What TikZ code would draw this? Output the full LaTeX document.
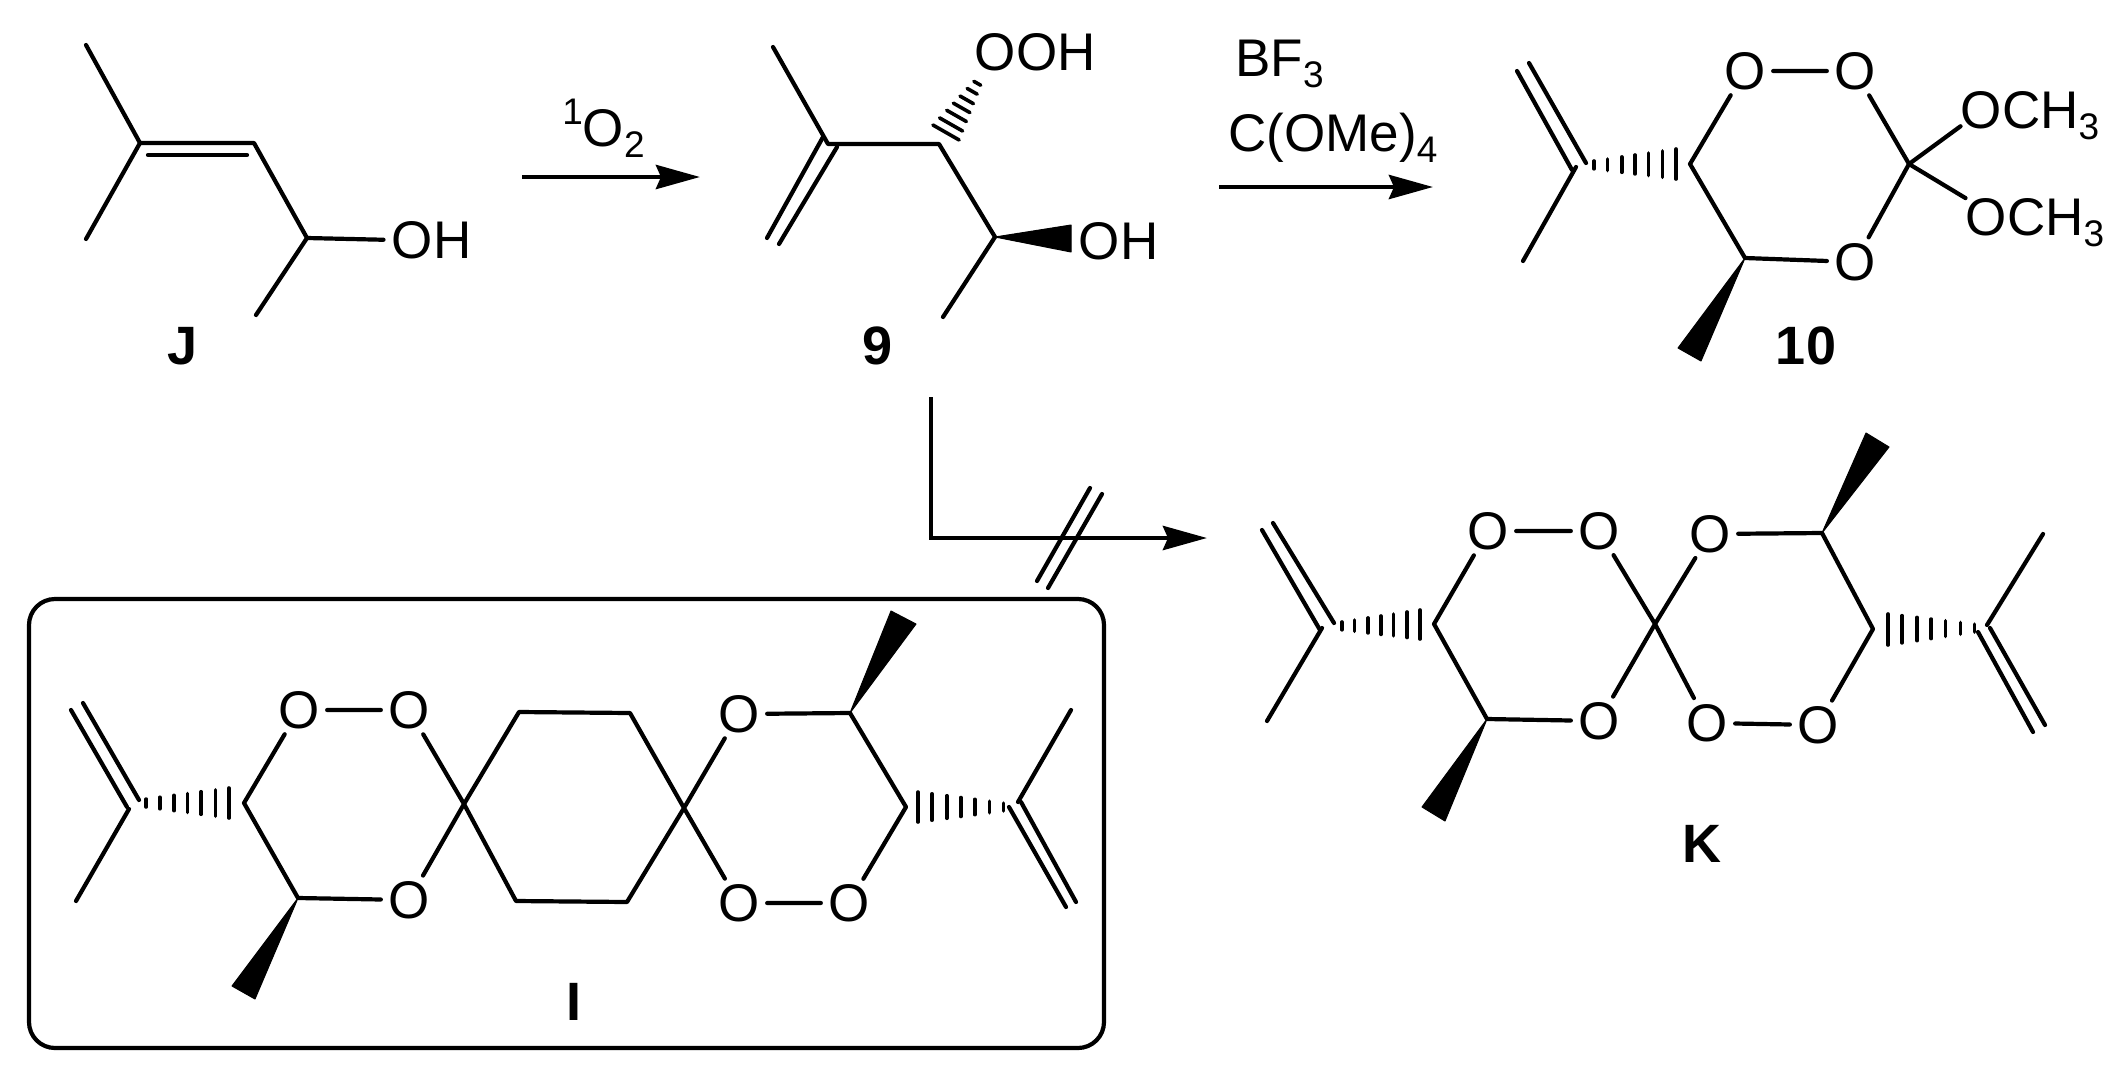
\documentclass[tikz,border=0pt]{standalone}
\usepackage{fontspec}
\setmainfont{Liberation Sans}
\usetikzlibrary{arrows.meta,calc}
\newcommand{\atomfont}{\fontsize{26.5}{30}\selectfont}
\newcommand{\subs}[1]{\raisebox{-5.5pt}{\fontsize{18.5}{20}\selectfont #1}}
\newcommand{\sups}[1]{\raisebox{11pt}{\fontsize{18.5}{20}\selectfont #1}}
\newcommand{\hashbond}[3]{\foreach \hpos in {0.08,0.23,0.39,0.54,0.69,0.85,1} \path[hash] ($(#1)!\hpos!(#2)$) -- ($(#1)!\hpos!(#3)$);}
\tikzstyle{bond} = [draw, line width=2.1pt, line cap=round, line join=round]
\tikzstyle{hash} = [draw, line width=1.8pt, line cap=round, shorten >=-1.5pt, shorten <=-1.5pt]
\tikzstyle{wedge} = [fill=black, draw=black, line width=0.5pt, line join=round]
\tikzstyle{rxn} = [draw, line width=2.4pt, -{Stealth[length=22pt,width=12pt,inset=2.5pt]}]
\tikzstyle{oxygen} = [circle, inner sep=0pt, minimum size=26pt, font=\atomfont]
\tikzstyle{chem} = [inner sep=0pt, anchor=base west, font=\atomfont]
\tikzstyle{compound} = [inner sep=0pt, anchor=base, font=\fontsize{27}{30}\selectfont\bfseries]
\begin{document}
\begin{tikzpicture}[x=0.5pt, y=-0.5pt]
        \useasboundingbox (0,0) rectangle (2125,1066);
        \coordinate (jMeA) at (86,45);
        \coordinate (jCa) at (140,143);
        \coordinate (jMeB) at (86,239);
        \coordinate (jCb) at (254,143);
        \coordinate (jInA) at (148,155);
        \coordinate (jInB) at (247,155);
        \coordinate (jCc) at (307,238);
        \coordinate (jMeC) at (256,315);
        \node[chem] (jOH) at (391.5,258) {OH};
        \node[compound] (jTag) at (183,364) {J};
        \path[bond] (jMeA) -- (jCa) -- (jMeB);
        \path[bond] (jCa) -- (jCb) -- (jCc) -- (jMeC);
        \path[bond] (jInA) -- (jInB);
        \path[bond] (jCc) -- ([xshift=-4pt]jOH.west);

        \coordinate (oneS) at (522,177);
        \coordinate (oneE) at (700,177);
        \node[chem] (oneO) at (562,146) {\sups{1}O\subs{2}};
        \path[rxn] (oneS) -- (oneE);

        \coordinate (nMeA) at (773,47);
        \coordinate (nCa) at (828,144);
        \coordinate (nCb) at (939,144);
        \coordinate (nCc) at (995,237);
        \coordinate (nMeC) at (943,317);
        \coordinate (nDbA) at (823,137);
        \coordinate (nDbB) at (767,238);
        \coordinate (nDbC) at (837,147);
        \coordinate (nDbD) at (779,244);
        \coordinate (nHs) at (980,79);
        \coordinate (nHa) at (935.5,126.5);
        \coordinate (nHb) at (956.5,138.5);
        \coordinate (nWa) at (1071,225);
        \coordinate (nWb) at (1071,252);
        \node[chem] (nOOH) at (974.5,70.5) {OOH};
        \node[chem] (nOH) at (1078.5,259) {OH};
        \node[compound] (nTag) at (878,364) {9};
        \path[bond] (nMeA) -- (nCa) -- (nCb) -- (nCc) -- (nMeC);
        \path[bond] (nDbA) -- (nDbB);
        \path[bond] (nDbC) -- (nDbD);
        \hashbond{nHs}{nHa}{nHb}
        \path[wedge] (nCc) -- (nWa) -- (nWb) -- cycle;

        \coordinate (twoS) at (1219,187);
        \coordinate (twoE) at (1433,187);
        \node[chem] (twoB) at (1235,76) {BF\subs{3}};
        \node[chem] (twoC) at (1228,151) {C(OMe)\subs{4}};
        \path[rxn] (twoS) -- (twoE);

        \coordinate (tDbA) at (1517,71);
        \coordinate (tDbB) at (1572,170);
        \coordinate (tDbC) at (1529,63);
        \coordinate (tDbD) at (1586,163);
        \coordinate (tCa) at (1576,167);
        \coordinate (tMe) at (1523,261);
        \coordinate (tCb) at (1690,164);
        \coordinate (tCc) at (1909,164);
        \coordinate (tCd) at (1745,258);
        \coordinate (tHs) at (1587,165);
        \coordinate (tHa) at (1676,152);
        \coordinate (tHb) at (1676,176);
        \coordinate (tWa) at (1678,348);
        \coordinate (tWb) at (1701,361);
        \node[oxygen] (tOa) at (1745,71) {O};
        \node[oxygen] (tOb) at (1855,71) {O};
        \node[oxygen] (tOc) at (1855,262) {O};
        \node[chem] (tMa) at (1960.5,128.5) {OCH\subs{3}};
        \node[chem] (tMb) at (1965.5,235.5) {OCH\subs{3}};
        \node[compound] (tTag) at (1806,364) {10};
        \path[bond] (tDbA) -- (tDbB);
        \path[bond] (tDbC) -- (tDbD);
        \path[bond] (tCa) -- (tMe);
        \path[bond] (tCb) -- (tOa) -- (tOb) -- (tCc) -- (tOc) -- (tCd) -- (tCb);
        \path[bond] (tCc) -- ([yshift=7pt]tMa.south west);
        \path[bond] (tCc) -- (tMb.north west);
        \hashbond{tHs}{tHa}{tHb}
        \path[wedge] (tCd) -- (tWa) -- (tWb) -- cycle;

        \coordinate (thrS) at (931,397);
        \coordinate (thrE) at (1207,538);
        \coordinate (slA) at (1090,488);
        \coordinate (slB) at (1037,581);
        \coordinate (slC) at (1102,494);
        \coordinate (slD) at (1048,588);
        \path[rxn] (thrS) |- (thrE);
        \path[bond] (slA) -- (slB);
        \path[bond] (slC) -- (slD);

        \draw[line width=2.1pt, rounded corners=13pt] (29,599) rectangle (1104,1048);

        \coordinate (iDbA) at (71,710);
        \coordinate (iDbB) at (127,807);
        \coordinate (iDbC) at (83,703);
        \coordinate (iDbD) at (139,800);
        \coordinate (iCa) at (129,809);
        \coordinate (iMeA) at (76,901);
        \coordinate (iCb) at (244,803);
        \coordinate (iCc) at (298,898);
        \coordinate (iSpA) at (464,804);
        \coordinate (iRa) at (519,712);
        \coordinate (iRb) at (630,713);
        \coordinate (iSpB) at (684,808);
        \coordinate (iRc) at (627,902);
        \coordinate (iRd) at (516,901);
        \coordinate (iCd) at (850,713);
        \coordinate (iCe) at (906,807);
        \coordinate (iCf) at (1018,802);
        \coordinate (iMeB) at (1071,710);
        \coordinate (iDbE) at (1009,807);
        \coordinate (iDbF) at (1066,907);
        \coordinate (iDbG) at (1021,802);
        \coordinate (iDbH) at (1076,902);
        \coordinate (iHs) at (139,803);
        \coordinate (iHa) at (229,791);
        \coordinate (iHb) at (229,815);
        \coordinate (iHt) at (1011,807);
        \coordinate (iHc) at (918,795);
        \coordinate (iHd) at (918,819);
        \coordinate (iWa) at (232,986);
        \coordinate (iWb) at (255,999);
        \coordinate (iWc) at (891,611);
        \coordinate (iWd) at (916,624);
        \node[oxygen] (iOa) at (299,710) {O};
        \node[oxygen] (iOb) at (409,710) {O};
        \node[oxygen] (iOc) at (409,900) {O};
        \node[oxygen] (iOd) at (739,714) {O};
        \node[oxygen] (iOe) at (849,903) {O};
        \node[oxygen] (iOf) at (739,903) {O};
        \node[compound] (iTag) at (574,1020) {I};
        \path[bond] (iDbA) -- (iDbB);
        \path[bond] (iDbC) -- (iDbD);
        \path[bond] (iCa) -- (iMeA);
        \path[bond] (iCb) -- (iOa) -- (iOb) -- (iSpA) -- (iOc) -- (iCc) -- (iCb);
        \path[bond] (iSpA) -- (iRa) -- (iRb) -- (iSpB) -- (iRc) -- (iRd) -- (iSpA);
        \path[bond] (iSpB) -- (iOd) -- (iCd) -- (iCe) -- (iOe) -- (iOf) -- (iSpB);
        \path[bond] (iCf) -- (iMeB);
        \path[bond] (iDbE) -- (iDbF);
        \path[bond] (iDbG) -- (iDbH);
        \hashbond{iHs}{iHa}{iHb}
        \hashbond{iHt}{iHc}{iHd}
        \path[wedge] (iCc) -- (iWa) -- (iWb) -- cycle;
        \path[wedge] (iCd) -- (iWc) -- (iWd) -- cycle;

        \coordinate (kDbA) at (1262,530);
        \coordinate (kDbB) at (1320,630);
        \coordinate (kDbC) at (1273,523);
        \coordinate (kDbD) at (1334,623);
        \coordinate (kCa) at (1322,628);
        \coordinate (kMeA) at (1267,721);
        \coordinate (kCb) at (1434,624);
        \coordinate (kCc) at (1487,719);
        \coordinate (kSp) at (1655,624);
        \coordinate (kCd) at (1822,533);
        \coordinate (kCe) at (1873,629);
        \coordinate (kCf) at (1987,625);
        \coordinate (kMeB) at (2043,534);
        \coordinate (kDbE) at (1978,632);
        \coordinate (kDbF) at (2033,732);
        \coordinate (kDbG) at (1990,628);
        \coordinate (kDbH) at (2045,725);
        \coordinate (kHs) at (1335,626);
        \coordinate (kHa) at (1420,613);
        \coordinate (kHb) at (1420,636);
        \coordinate (kHt) at (1982,628);
        \coordinate (kHc) at (1888,617);
        \coordinate (kHd) at (1888,642);
        \coordinate (kWa) at (1422,807);
        \coordinate (kWb) at (1445,821);
        \coordinate (kWc) at (1866,433);
        \coordinate (kWd) at (1889,447);
        \node[oxygen] (kOa) at (1488,531) {O};
        \node[oxygen] (kOb) at (1599,531) {O};
        \node[oxygen] (kOc) at (1599,721) {O};
        \node[oxygen] (kOd) at (1710,534) {O};
        \node[oxygen] (kOe) at (1818,725) {O};
        \node[oxygen] (kOf) at (1707,723) {O};
        \node[compound] (kTag) at (1702,862) {K};
        \path[bond] (kDbA) -- (kDbB);
        \path[bond] (kDbC) -- (kDbD);
        \path[bond] (kCa) -- (kMeA);
        \path[bond] (kCb) -- (kOa) -- (kOb) -- (kSp) -- (kOc) -- (kCc) -- (kCb);
        \path[bond] (kSp) -- (kOd) -- (kCd) -- (kCe) -- (kOe) -- (kOf) -- (kSp);
        \path[bond] (kCf) -- (kMeB);
        \path[bond] (kDbE) -- (kDbF);
        \path[bond] (kDbG) -- (kDbH);
        \hashbond{kHs}{kHa}{kHb}
        \hashbond{kHt}{kHc}{kHd}
        \path[wedge] (kCc) -- (kWa) -- (kWb) -- cycle;
        \path[wedge] (kCd) -- (kWc) -- (kWd) -- cycle;
    \end{tikzpicture}
\end{document}
